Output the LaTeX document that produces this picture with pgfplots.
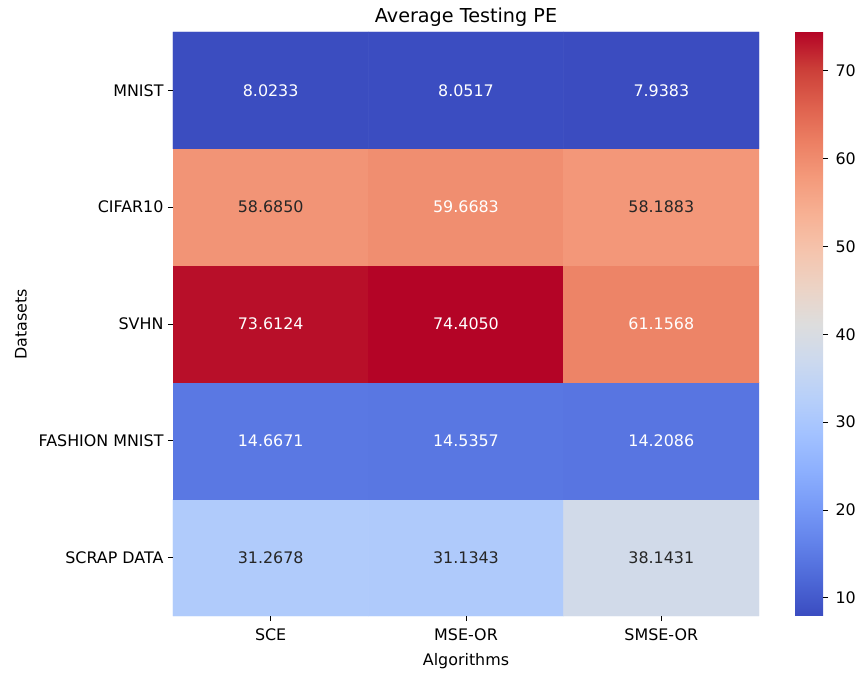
\documentclass[border=0pt]{standalone}
\usepackage{pgfplots}
\pgfplotsset{compat=1.18}
\usepackage{fontspec}
\setmainfont{DejaVu Sans}

\definecolor{annodark}{RGB}{38,38,38}

% rows: y=4 MNIST ... y=0 SCRAP DATA; cols: SCE, MSE-OR, SMSE-OR
\pgfplotstableread{
x y z
0 0 31.2678
1 0 31.1343
2 0 38.1431
0 1 14.6671
1 1 14.5357
2 1 14.2086
0 2 73.6124
1 2 74.4050
2 2 61.1568
0 3 58.6850
1 3 59.6683
2 3 58.1883
0 4 8.0233
1 4 8.0517
2 4 7.9383
}\pemat

\pgfplotstableread{
x y l
0 4 8.0233
1 4 8.0517
2 4 7.9383
1 3 59.6683
0 2 73.6124
1 2 74.4050
2 2 61.1568
0 1 14.6671
1 1 14.5357
2 1 14.2086
}\whitelabels

\pgfplotstableread{
x y l
0 3 58.6850
2 3 58.1883
0 0 31.2678
1 0 31.1343
2 0 38.1431
}\darklabels

\pgfplotsset{
  colormap={coolwarm}{
    rgb255=(59,76,192) rgb255=(77,104,215) rgb255=(98,130,234) rgb255=(119,154,247)
    rgb255=(141,176,254) rgb255=(163,194,255) rgb255=(184,208,249) rgb255=(204,217,238)
    rgb255=(221,221,221) rgb255=(236,211,197) rgb255=(245,196,173) rgb255=(247,177,148)
    rgb255=(244,154,123) rgb255=(236,127,99) rgb255=(222,96,77) rgb255=(203,62,56)
    rgb255=(180,4,38)
  },
}
\newcommand{\lblfont}{\fontsize{15.9}{18}\selectfont}

\begin{document}
\begin{tikzpicture}
\useasboundingbox (-173pt,-56pt) rectangle (686pt,616pt);
\begin{axis}[
  at={(0pt,0pt)}, anchor=south west,
  scale only axis, width=586pt, height=584pt,
  xmin=-0.5, xmax=2.5, ymin=-0.5, ymax=4.5,
  axis line style={draw=none},
  xtick={0,1,2}, xticklabels={SCE,MSE-OR,SMSE-OR},
  ytick={0,1,2,3,4}, yticklabels={SCRAP DATA,FASHION MNIST,SVHN,CIFAR10,MNIST},
  tick align=outside, xtick pos=bottom, ytick pos=left,
  major tick length=5pt,
  tick style={draw=black, line width=0.8pt},
  ticklabel style={font=\lblfont, text=black},
  xticklabel style={yshift=-4pt},
  yticklabel style={xshift=-1pt},
  label style={font=\lblfont},
  xlabel={Algorithms}, ylabel={Datasets},
  xlabel style={at={(axis description cs:0.5,-0.0770)}, anchor=center},
  ylabel style={at={(axis description cs:-0.2594,0.5)}, anchor=center},
  title={Average Testing PE},
  title style={font=\fontsize{19.2}{22}\selectfont, at={(axis description cs:0.5,1.0154)}, anchor=center},
  colormap name=coolwarm,
  point meta min=7.9383, point meta max=74.4050,
  colorbar,
  colorbar/width=28pt,
  colorbar style={
    at={(parent axis.north east)}, anchor=north west, xshift=27.5pt,
    scale only axis,
    axis line style={draw=none},
    ytick=\empty,
  },
]
\addplot[matrix plot*, mesh/cols=3, point meta=explicit] table[x=x, y=y, meta=z] {\pemat};

\addplot[only marks, mark=none, nodes near coords, point meta=explicit symbolic,
  nodes near coords align=center,
  every node near coord/.append style={anchor=center, text=white, font=\lblfont}]
  table[x=x, y=y, meta=l] {\whitelabels};

\addplot[only marks, mark=none, nodes near coords, point meta=explicit symbolic,
  nodes near coords align=center,
  every node near coord/.append style={anchor=center, text=annodark, font=\lblfont}]
  table[x=x, y=y, meta=l] {\darklabels};
\end{axis}
% short tick marks of the heatmap axes
\begin{axis}[
  at={(0pt,0pt)}, anchor=south west,
  scale only axis, width=586pt, height=584pt,
  xmin=0, xmax=1, ymin=0, ymax=1,
  hide axis, clip=false,
]
\addplot[ycomb, draw=black, line width=0.8pt, mark=none]
  coordinates {(0.16667,-0.00856) (0.5,-0.00856) (0.83333,-0.00856)};
\addplot[xcomb, draw=black, line width=0.8pt, mark=none]
  coordinates {(-0.00853,0.1) (-0.00853,0.3) (-0.00853,0.5) (-0.00853,0.7) (-0.00853,0.9)};
\end{axis}
% tick marks and numbers of the colour scale
\begin{axis}[
  at={(622pt,0pt)}, anchor=south west,
  scale only axis, width=28pt, height=584pt,
  xmin=-1, xmax=0, ymin=7.9383, ymax=74.4050,
  clip=false,
  axis line style={draw=none},
  xtick=\empty,
  ytick={10,20,30,40,50,60,70},
  ytick pos=right, yticklabel pos=right,
  tick align=outside,
  major tick length=5pt,
  tick style={draw=black, line width=0.8pt},
  yticklabel style={font=\lblfont, text=black, xshift=4pt},
  /pgf/number format/assume math mode=true,
]
\addplot[xcomb, draw=black, line width=0.8pt, mark=none]
  coordinates {(0.1786,10) (0.1786,20) (0.1786,30) (0.1786,40) (0.1786,50) (0.1786,60) (0.1786,70)};
\end{axis}
\end{tikzpicture}
\end{document}
